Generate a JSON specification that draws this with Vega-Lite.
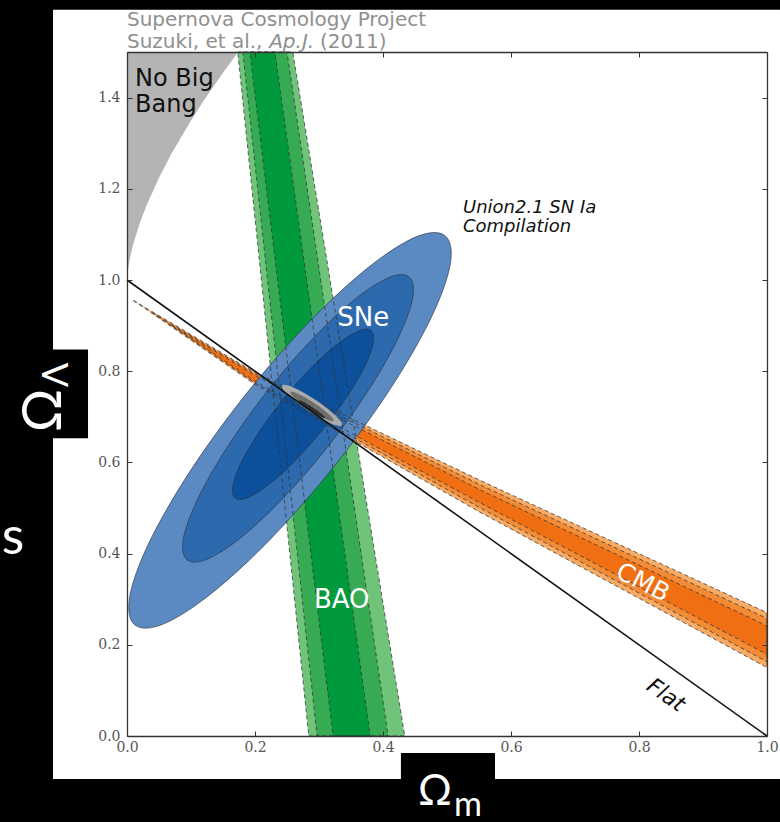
{
"$schema":"https://vega.github.io/schema/vega-lite/v6.json",
"width":640,"height":684,
"autosize":{"type":"none"},
"padding":{"left":127,"top":52,"right":13,"bottom":86},
"background":"#000000",
"config":{"view":{"stroke":null},"axis":{"grid":false}},
"resolve":{"axis":{"x":"independent","y":"independent"}},
"datasets":{
"poly":[
{"r":"NBB","f":"NBB","i":0,"om":0,"ol":1.0},{"r":"NBB","f":"NBB","i":1,"om":0.001,"ol":1.018},{"r":"NBB","f":"NBB","i":2,"om":0.005,"ol":1.051},{"r":"NBB","f":"NBB","i":3,"om":0.01,"ol":1.08},{"r":"NBB","f":"NBB","i":4,"om":0.02,"ol":1.125},{"r":"NBB","f":"NBB","i":5,"om":0.03,"ol":1.162},{"r":"NBB","f":"NBB","i":6,"om":0.05,"ol":1.224},{"r":"NBB","f":"NBB","i":7,"om":0.07,"ol":1.2785},{"r":"NBB","f":"NBB","i":8,"om":0.1,"ol":1.35},{"r":"NBB","f":"NBB","i":9,"om":0.12,"ol":1.3937},{"r":"NBB","f":"NBB","i":10,"om":0.15,"ol":1.4547},{"r":"NBB","f":"NBB","i":11,"om":0.17,"ol":1.4926},{"r":"NBB","f":"NBB","i":12,"om":0.174,"ol":1.5},{"r":"NBB","f":"NBB","i":13,"om":0,"ol":1.5},
{"r":"BAO3","f":"BAO","i":0,"om":0.173,"ol":1.5},{"r":"BAO3","f":"BAO","i":1,"om":0.259,"ol":1.5},{"r":"BAO3","f":"BAO","i":2,"om":0.434,"ol":0},{"r":"BAO3","f":"BAO","i":3,"om":0.284,"ol":0},
{"r":"BAO2","f":"BAO","i":0,"om":0.181,"ol":1.5},{"r":"BAO2","f":"BAO","i":1,"om":0.250,"ol":1.5},{"r":"BAO2","f":"BAO","i":2,"om":0.408,"ol":0},{"r":"BAO2","f":"BAO","i":3,"om":0.297,"ol":0},
{"r":"BAO1","f":"BAO","i":0,"om":0.192,"ol":1.5},{"r":"BAO1","f":"BAO","i":1,"om":0.231,"ol":1.5},{"r":"BAO1","f":"BAO","i":2,"om":0.380,"ol":0},{"r":"BAO1","f":"BAO","i":3,"om":0.322,"ol":0},
{"r":"CMB3","f":"CMB","i":0,"om":0.01,"ol":0.955},{"r":"CMB3","f":"CMB","i":1,"om":0.2,"ol":0.7973},{"r":"CMB3","f":"CMB","i":2,"om":0.5516,"ol":0.5607},{"r":"CMB3","f":"CMB","i":3,"om":1.0,"ol":0.2705},{"r":"CMB3","f":"CMB","i":4,"om":1.0,"ol":0.1501},{"r":"CMB3","f":"CMB","i":5,"om":0.5516,"ol":0.4907},{"r":"CMB3","f":"CMB","i":6,"om":0.2,"ol":0.7711},
{"r":"CMB2","f":"CMB","i":0,"om":0.04,"ol":0.928},{"r":"CMB2","f":"CMB","i":1,"om":0.2,"ol":0.7941},{"r":"CMB2","f":"CMB","i":2,"om":0.5516,"ol":0.5509},{"r":"CMB2","f":"CMB","i":3,"om":1.0,"ol":0.2578},{"r":"CMB2","f":"CMB","i":4,"om":1.0,"ol":0.1628},{"r":"CMB2","f":"CMB","i":5,"om":0.5516,"ol":0.5005},{"r":"CMB2","f":"CMB","i":6,"om":0.2,"ol":0.7743},
{"r":"CMB1","f":"CMB","i":0,"om":0.07,"ol":0.901},{"r":"CMB1","f":"CMB","i":1,"om":0.2,"ol":0.7908},{"r":"CMB1","f":"CMB","i":2,"om":0.5516,"ol":0.5399},{"r":"CMB1","f":"CMB","i":3,"om":1.0,"ol":0.2416},{"r":"CMB1","f":"CMB","i":4,"om":1.0,"ol":0.1790},{"r":"CMB1","f":"CMB","i":5,"om":0.5516,"ol":0.5115},{"r":"CMB1","f":"CMB","i":6,"om":0.2,"ol":0.7776},
{"r":"SNe3","f":"SNe","i":0,"om":0.4969,"ol":1.0973},{"r":"SNe3","f":"SNe","i":1,"om":0.5052,"ol":1.0350},{"r":"SNe3","f":"SNe","i":2,"om":0.4752,"ol":0.9172},{"r":"SNe3","f":"SNe","i":3,"om":0.4117,"ol":0.7619},{"r":"SNe3","f":"SNe","i":4,"om":0.3244,"ol":0.5926},{"r":"SNe3","f":"SNe","i":5,"om":0.2264,"ol":0.4350},{"r":"SNe3","f":"SNe","i":6,"om":0.1327,"ol":0.3135},{"r":"SNe3","f":"SNe","i":7,"om":0.0577,"ol":0.2460},{"r":"SNe3","f":"SNe","i":8,"om":0.0125,"ol":0.2434},{"r":"SNe3","f":"SNe","i":9,"om":0.0042,"ol":0.3056},{"r":"SNe3","f":"SNe","i":10,"om":0.0342,"ol":0.4234},{"r":"SNe3","f":"SNe","i":11,"om":0.0977,"ol":0.5787},{"r":"SNe3","f":"SNe","i":12,"om":0.1850,"ol":0.7481},{"r":"SNe3","f":"SNe","i":13,"om":0.2830,"ol":0.9056},{"r":"SNe3","f":"SNe","i":14,"om":0.3767,"ol":1.0272},{"r":"SNe3","f":"SNe","i":15,"om":0.4517,"ol":1.0946},
{"r":"SNe2","f":"SNe","i":0,"om":0.4403,"ol":1.0072},{"r":"SNe2","f":"SNe","i":1,"om":0.4466,"ol":0.9625},{"r":"SNe2","f":"SNe","i":2,"om":0.4252,"ol":0.8773},{"r":"SNe2","f":"SNe","i":3,"om":0.3800,"ol":0.7645},{"r":"SNe2","f":"SNe","i":4,"om":0.3177,"ol":0.6414},{"r":"SNe2","f":"SNe","i":5,"om":0.2475,"ol":0.5266},{"r":"SNe2","f":"SNe","i":6,"om":0.1805,"ol":0.4379},{"r":"SNe2","f":"SNe","i":7,"om":0.1266,"ol":0.3886},{"r":"SNe2","f":"SNe","i":8,"om":0.0941,"ol":0.3860},{"r":"SNe2","f":"SNe","i":9,"om":0.0878,"ol":0.4307},{"r":"SNe2","f":"SNe","i":10,"om":0.1092,"ol":0.5159},{"r":"SNe2","f":"SNe","i":11,"om":0.1544,"ol":0.6287},{"r":"SNe2","f":"SNe","i":12,"om":0.2167,"ol":0.7518},{"r":"SNe2","f":"SNe","i":13,"om":0.2869,"ol":0.8666},{"r":"SNe2","f":"SNe","i":14,"om":0.3539,"ol":0.9553},{"r":"SNe2","f":"SNe","i":15,"om":0.4078,"ol":1.0046},
{"r":"SNe1","f":"SNe","i":0,"om":0.3813,"ol":0.8892},{"r":"SNe1","f":"SNe","i":1,"om":0.3847,"ol":0.8620},{"r":"SNe1","f":"SNe","i":2,"om":0.3716,"ol":0.8110},{"r":"SNe1","f":"SNe","i":3,"om":0.3436,"ol":0.7439},{"r":"SNe1","f":"SNe","i":4,"om":0.3053,"ol":0.6710},{"r":"SNe1","f":"SNe","i":5,"om":0.2623,"ol":0.6033},{"r":"SNe1","f":"SNe","i":6,"om":0.2213,"ol":0.5512},{"r":"SNe1","f":"SNe","i":7,"om":0.1884,"ol":0.5225},{"r":"SNe1","f":"SNe","i":8,"om":0.1688,"ol":0.5216},{"r":"SNe1","f":"SNe","i":9,"om":0.1653,"ol":0.5487},{"r":"SNe1","f":"SNe","i":10,"om":0.1784,"ol":0.5998},{"r":"SNe1","f":"SNe","i":11,"om":0.2064,"ol":0.6668},{"r":"SNe1","f":"SNe","i":12,"om":0.2447,"ol":0.7398},{"r":"SNe1","f":"SNe","i":13,"om":0.2877,"ol":0.8075},{"r":"SNe1","f":"SNe","i":14,"om":0.3288,"ol":0.8596},{"r":"SNe1","f":"SNe","i":15,"om":0.3616,"ol":0.8883},
{"r":"C3","f":"C","i":0,"om":0.3359,"ol":0.6813},{"r":"C3","f":"C","i":1,"om":0.3268,"ol":0.6812},{"r":"C3","f":"C","i":2,"om":0.3076,"ol":0.6929},{"r":"C3","f":"C","i":3,"om":0.2834,"ol":0.7132},{"r":"C3","f":"C","i":4,"om":0.2608,"ol":0.7367},{"r":"C3","f":"C","i":5,"om":0.2457,"ol":0.7570},{"r":"C3","f":"C","i":6,"om":0.2423,"ol":0.7688},{"r":"C3","f":"C","i":7,"om":0.2514,"ol":0.7689},{"r":"C3","f":"C","i":8,"om":0.2705,"ol":0.7572},{"r":"C3","f":"C","i":9,"om":0.2947,"ol":0.7369},{"r":"C3","f":"C","i":10,"om":0.3174,"ol":0.7134},{"r":"C3","f":"C","i":11,"om":0.3324,"ol":0.6931},
{"r":"C2","f":"C","i":0,"om":0.3229,"ol":0.6913},{"r":"C2","f":"C","i":1,"om":0.3166,"ol":0.6918},{"r":"C2","f":"C","i":2,"om":0.3030,"ol":0.7007},{"r":"C2","f":"C","i":3,"om":0.2856,"ol":0.7156},{"r":"C2","f":"C","i":4,"om":0.2692,"ol":0.7324},{"r":"C2","f":"C","i":5,"om":0.2581,"ol":0.7466},{"r":"C2","f":"C","i":6,"om":0.2553,"ol":0.7545},{"r":"C2","f":"C","i":7,"om":0.2615,"ol":0.7539},{"r":"C2","f":"C","i":8,"om":0.2752,"ol":0.7450},{"r":"C2","f":"C","i":9,"om":0.2925,"ol":0.7302},{"r":"C2","f":"C","i":10,"om":0.3089,"ol":0.7134},{"r":"C2","f":"C","i":11,"om":0.3201,"ol":0.6991},
{"r":"C1","f":"C","i":0,"om":0.3099,"ol":0.6969},{"r":"C1","f":"C","i":1,"om":0.3062,"ol":0.6977},{"r":"C1","f":"C","i":2,"om":0.2980,"ol":0.7034},{"r":"C1","f":"C","i":3,"om":0.2873,"ol":0.7127},{"r":"C1","f":"C","i":4,"om":0.2771,"ol":0.7229},{"r":"C1","f":"C","i":5,"om":0.2702,"ol":0.7313},{"r":"C1","f":"C","i":6,"om":0.2683,"ol":0.7358},{"r":"C1","f":"C","i":7,"om":0.2719,"ol":0.7350},{"r":"C1","f":"C","i":8,"om":0.2802,"ol":0.7292},{"r":"C1","f":"C","i":9,"om":0.2908,"ol":0.7200},{"r":"C1","f":"C","i":10,"om":0.3010,"ol":0.7098},{"r":"C1","f":"C","i":11,"om":0.3080,"ol":0.7013}
],
"flat":[{"om":0,"ol":1},{"om":1,"ol":0}]
},
"layer":[
{"data":{"values":[{"om1":-0.1156,"om2":1.0203,"ol1":-0.0942,"ol2":1.5925}]},
 "mark":{"type":"rect","color":"#ffffff"},
 "encoding":{"x":{"field":"om1","type":"quantitative","scale":{"domain":[0,1],"nice":false,"zero":false},"axis":null},"x2":{"field":"om2"},
  "y":{"field":"ol1","type":"quantitative","scale":{"domain":[0,1.5],"nice":false,"zero":false},"axis":null},"y2":{"field":"ol2"}}},
{"data":{"values":[{"om1":-0.1984,"om2":-0.0609,"ol1":0.6528,"ol2":0.8477},{"om1":0.428,"om2":0.575,"ol1":-0.1884,"ol2":-0.0372}]},
 "mark":{"type":"rect","color":"#000000"},
 "encoding":{"x":{"field":"om1","type":"quantitative","scale":{"domain":[0,1],"nice":false,"zero":false},"axis":null},"x2":{"field":"om2"},
  "y":{"field":"ol1","type":"quantitative","scale":{"domain":[0,1.5],"nice":false,"zero":false},"axis":null},"y2":{"field":"ol2"}}},
{"data":{"name":"poly"},"transform":[{"filter":"datum.f == 'NBB'"}],
 "mark":{"type":"line","filled":true,"interpolate":"linear-closed","strokeWidth":0},
 "encoding":{"x":{"field":"om","type":"quantitative","scale":{"domain":[0,1],"nice":false,"zero":false},
   "axis":{"orient":"top","labels":false,"title":null,"values":[0,0.2,0.4,0.6,0.8,1.0],"tickSize":-5,"tickColor":"#333","domainColor":"#333","domainWidth":1.3,"zindex":1}},
  "y":{"field":"ol","type":"quantitative","scale":{"domain":[0,1.5],"nice":false,"zero":false},
   "axis":{"orient":"right","labels":false,"title":null,"values":[0,0.2,0.4,0.6,0.8,1.0,1.2,1.4],"tickSize":-5,"tickColor":"#333","domainColor":"#333","domainWidth":1.3,"zindex":1}},
  "color":{"field":"r","type":"nominal","legend":null,"scale":{"domain":["NBB","BAO3","BAO2","BAO1","CMB3","CMB2","CMB1","SNe3","SNe2","SNe1","C3","C2","C1"],"range":["#b4b4b4","#6fc47a","#36ab53","#009a3c","#f8ab64","#f38b35","#ef6f12","#5b89c1","#2c6aad","#0c4f9a","#ababab","#6e6e6e","#2e2e2e"]}},
  "order":{"field":"i","type":"quantitative"}}},
{"data":{"name":"poly"},"transform":[{"filter":"datum.f == 'BAO'"}],
 "mark":{"type":"line","filled":true,"interpolate":"linear-closed","strokeWidth":0},
 "encoding":{"x":{"field":"om","type":"quantitative","scale":{"domain":[0,1],"nice":false,"zero":false},"axis":null},
  "y":{"field":"ol","type":"quantitative","scale":{"domain":[0,1.5],"nice":false,"zero":false},"axis":null},
  "color":{"field":"r","type":"nominal","legend":null,"scale":{"domain":["NBB","BAO3","BAO2","BAO1","CMB3","CMB2","CMB1","SNe3","SNe2","SNe1","C3","C2","C1"],"range":["#b4b4b4","#6fc47a","#36ab53","#009a3c","#f8ab64","#f38b35","#ef6f12","#5b89c1","#2c6aad","#0c4f9a","#ababab","#6e6e6e","#2e2e2e"]}},
  "order":{"field":"i","type":"quantitative"}}},
{"data":{"name":"poly"},"transform":[{"filter":"datum.f == 'CMB'"}],
 "mark":{"type":"line","filled":true,"interpolate":"linear-closed","strokeWidth":0},
 "encoding":{"x":{"field":"om","type":"quantitative","scale":{"domain":[0,1],"nice":false,"zero":false},"axis":null},
  "y":{"field":"ol","type":"quantitative","scale":{"domain":[0,1.5],"nice":false,"zero":false},"axis":null},
  "color":{"field":"r","type":"nominal","legend":null,"scale":{"domain":["NBB","BAO3","BAO2","BAO1","CMB3","CMB2","CMB1","SNe3","SNe2","SNe1","C3","C2","C1"],"range":["#b4b4b4","#6fc47a","#36ab53","#009a3c","#f8ab64","#f38b35","#ef6f12","#5b89c1","#2c6aad","#0c4f9a","#ababab","#6e6e6e","#2e2e2e"]}},
  "order":{"field":"i","type":"quantitative"}}},
{"data":{"name":"poly"},"transform":[{"filter":"datum.f == 'SNe'"}],
 "mark":{"type":"line","filled":true,"interpolate":"cardinal-closed","stroke":"#2a3340","strokeWidth":0.8,"strokeOpacity":0.8},
 "encoding":{"x":{"field":"om","type":"quantitative","scale":{"domain":[0,1],"nice":false,"zero":false},"axis":null},
  "y":{"field":"ol","type":"quantitative","scale":{"domain":[0,1.5],"nice":false,"zero":false},"axis":null},
  "color":{"field":"r","type":"nominal","legend":null,"scale":{"domain":["NBB","BAO3","BAO2","BAO1","CMB3","CMB2","CMB1","SNe3","SNe2","SNe1","C3","C2","C1"],"range":["#b4b4b4","#6fc47a","#36ab53","#009a3c","#f8ab64","#f38b35","#ef6f12","#5b89c1","#2c6aad","#0c4f9a","#ababab","#6e6e6e","#2e2e2e"]}},
  "order":{"field":"i","type":"quantitative"}}},
{"data":{"name":"poly"},"transform":[{"filter":"datum.f == 'BAO' || datum.f == 'CMB'"}],
 "mark":{"type":"line","interpolate":"linear-closed","color":"#333333","strokeWidth":1,"strokeDash":[4,3],"opacity":0.75},
 "encoding":{"x":{"field":"om","type":"quantitative","scale":{"domain":[0,1],"nice":false,"zero":false},"axis":null},
  "y":{"field":"ol","type":"quantitative","scale":{"domain":[0,1.5],"nice":false,"zero":false},"axis":null},
  "detail":{"field":"r","type":"nominal"},
  "order":{"field":"i","type":"quantitative"}}},
{"data":{"name":"poly"},"transform":[{"filter":"datum.f == 'C'"}],
 "mark":{"type":"line","filled":true,"interpolate":"cardinal-closed","strokeWidth":0},
 "encoding":{"x":{"field":"om","type":"quantitative","scale":{"domain":[0,1],"nice":false,"zero":false},"axis":null},
  "y":{"field":"ol","type":"quantitative","scale":{"domain":[0,1.5],"nice":false,"zero":false},"axis":null},
  "color":{"field":"r","type":"nominal","legend":null,"scale":{"domain":["NBB","BAO3","BAO2","BAO1","CMB3","CMB2","CMB1","SNe3","SNe2","SNe1","C3","C2","C1"],"range":["#b4b4b4","#6fc47a","#36ab53","#009a3c","#f8ab64","#f38b35","#ef6f12","#5b89c1","#2c6aad","#0c4f9a","#ababab","#6e6e6e","#2e2e2e"]}},
  "order":{"field":"i","type":"quantitative"}}},
{"data":{"name":"flat"},
 "mark":{"type":"line","color":"#111111","strokeWidth":1.6},
 "encoding":{"x":{"field":"om","type":"quantitative","scale":{"domain":[0,1],"nice":false,"zero":false},
   "axis":{"orient":"bottom","title":null,"values":[0,0.2,0.4,0.6,0.8,1.0],"format":".1f","tickSize":-5,"tickColor":"#333","domainColor":"#333","domainWidth":1.3,"labelPadding":9,"labelFlush":false,"labelOverlap":false,"labelFont":"DejaVu Serif","labelFontSize":14,"labelColor":"#555555","zindex":1}},
  "y":{"field":"ol","type":"quantitative","scale":{"domain":[0,1.5],"nice":false,"zero":false},
   "axis":{"orient":"left","title":null,"values":[0,0.2,0.4,0.6,0.8,1.0,1.2,1.4],"format":".1f","tickSize":-5,"tickColor":"#333","domainColor":"#333","domainWidth":1.3,"labelPadding":12,"labelFlush":false,"labelOverlap":false,"labelFont":"DejaVu Serif","labelFontSize":14,"labelColor":"#555555","zindex":1}}}},
{"data":{"values":[{"t":"Supernova Cosmology Project","om":0,"ol":1.5575},{"t":"Suzuki, et al.,","om":0,"ol":1.5087},{"t":"(2011)","om":0.3016,"ol":1.5087}]},
 "mark":{"type":"text","font":"DejaVu Sans","fontSize":20,"color":"#8f8f8f","align":"left","baseline":"alphabetic"},
 "encoding":{"x":{"field":"om","type":"quantitative","scale":{"domain":[0,1],"nice":false,"zero":false},"axis":null},"y":{"field":"ol","type":"quantitative","scale":{"domain":[0,1.5],"nice":false,"zero":false},"axis":null},"text":{"field":"t"}}},
{"data":{"values":[{"t":"Ap.J.","om":0.2221,"ol":1.5087}]},
 "mark":{"type":"text","font":"DejaVu Sans","fontSize":20,"fontStyle":"italic","color":"#8f8f8f","align":"left","baseline":"alphabetic"},
 "encoding":{"x":{"field":"om","type":"quantitative","scale":{"domain":[0,1],"nice":false,"zero":false},"axis":null},"y":{"field":"ol","type":"quantitative","scale":{"domain":[0,1.5],"nice":false,"zero":false},"axis":null},"text":{"field":"t"}}},
{"data":{"values":[{"t":"No Big","om":0.0125,"ol":1.426},{"t":"Bang","om":0.0125,"ol":1.3676}]},
 "mark":{"type":"text","font":"DejaVu Sans","fontSize":24,"color":"#111111","align":"left","baseline":"alphabetic"},
 "encoding":{"x":{"field":"om","type":"quantitative","scale":{"domain":[0,1],"nice":false,"zero":false},"axis":null},"y":{"field":"ol","type":"quantitative","scale":{"domain":[0,1.5],"nice":false,"zero":false},"axis":null},"text":{"field":"t"}}},
{"data":{"values":[{"t":"Union2.1 SN Ia","om":0.525,"ol":1.1479},{"t":"Compilation","om":0.525,"ol":1.1062}]},
 "mark":{"type":"text","font":"DejaVu Sans","fontSize":18,"fontStyle":"italic","color":"#111111","align":"left","baseline":"alphabetic"},
 "encoding":{"x":{"field":"om","type":"quantitative","scale":{"domain":[0,1],"nice":false,"zero":false},"axis":null},"y":{"field":"ol","type":"quantitative","scale":{"domain":[0,1.5],"nice":false,"zero":false},"axis":null},"text":{"field":"t"}}},
{"data":{"values":[{"t":"SNe","om":0.369,"ol":0.9157},{"t":"BAO","om":0.3355,"ol":0.2979}]},
 "mark":{"type":"text","font":"DejaVu Sans","fontSize":26,"color":"#ffffff","align":"center","baseline":"middle"},
 "encoding":{"x":{"field":"om","type":"quantitative","scale":{"domain":[0,1],"nice":false,"zero":false},"axis":null},"y":{"field":"ol","type":"quantitative","scale":{"domain":[0,1.5],"nice":false,"zero":false},"axis":null},"text":{"field":"t"}}},
{"data":{"values":[{"t":"CMB","om":0.806,"ol":0.337}]},
 "mark":{"type":"text","font":"DejaVu Sans","fontSize":25,"color":"#ffffff","align":"center","baseline":"middle","angle":27},
 "encoding":{"x":{"field":"om","type":"quantitative","scale":{"domain":[0,1],"nice":false,"zero":false},"axis":null},"y":{"field":"ol","type":"quantitative","scale":{"domain":[0,1.5],"nice":false,"zero":false},"axis":null},"text":{"field":"t"}}},
{"data":{"values":[{"t":"Flat","om":0.842,"ol":0.0898}]},
 "mark":{"type":"text","font":"DejaVu Sans","fontSize":22,"fontStyle":"italic","color":"#111111","align":"center","baseline":"middle","angle":35.5},
 "encoding":{"x":{"field":"om","type":"quantitative","scale":{"domain":[0,1],"nice":false,"zero":false},"axis":null},"y":{"field":"ol","type":"quantitative","scale":{"domain":[0,1.5],"nice":false,"zero":false},"axis":null},"text":{"field":"t"}}},
{"data":{"values":[{"t":"Ω","om":-0.1281,"ol":0.7141}]},
 "mark":{"type":"text","font":"Lato","fontSize":54,"color":"#ffffff","align":"center","baseline":"middle","angle":270},
 "encoding":{"x":{"field":"om","type":"quantitative","scale":{"domain":[0,1],"nice":false,"zero":false},"axis":null},"y":{"field":"ol","type":"quantitative","scale":{"domain":[0,1.5],"nice":false,"zero":false},"axis":null},"text":{"field":"t"}}},
{"data":{"values":[{"t":"Λ","om":-0.1094,"ol":0.7919}]},
 "mark":{"type":"text","font":"Lato","fontSize":36,"color":"#ffffff","align":"center","baseline":"middle","angle":270},
 "encoding":{"x":{"field":"om","type":"quantitative","scale":{"domain":[0,1],"nice":false,"zero":false},"axis":null},"y":{"field":"ol","type":"quantitative","scale":{"domain":[0,1.5],"nice":false,"zero":false},"axis":null},"text":{"field":"t"}}},
{"data":{"values":[{"t":"Ω","om":0.4813,"ol":-0.1227}]},
 "mark":{"type":"text","font":"Lato","fontSize":42,"color":"#ffffff","align":"center","baseline":"middle"},
 "encoding":{"x":{"field":"om","type":"quantitative","scale":{"domain":[0,1],"nice":false,"zero":false},"axis":null},"y":{"field":"ol","type":"quantitative","scale":{"domain":[0,1.5],"nice":false,"zero":false},"axis":null},"text":{"field":"t"}}},
{"data":{"values":[{"t":"m","om":0.5328,"ol":-0.1533}]},
 "mark":{"type":"text","font":"Lato","fontSize":34,"color":"#ffffff","align":"center","baseline":"middle"},
 "encoding":{"x":{"field":"om","type":"quantitative","scale":{"domain":[0,1],"nice":false,"zero":false},"axis":null},"y":{"field":"ol","type":"quantitative","scale":{"domain":[0,1.5],"nice":false,"zero":false},"axis":null},"text":{"field":"t"}}},
{"data":{"values":[{"t":"s","om":-0.178,"ol":0.4337}]},
 "mark":{"type":"text","font":"Lato","fontSize":52,"color":"#ffffff","align":"center","baseline":"middle"},
 "encoding":{"x":{"field":"om","type":"quantitative","scale":{"domain":[0,1],"nice":false,"zero":false},"axis":null},"y":{"field":"ol","type":"quantitative","scale":{"domain":[0,1.5],"nice":false,"zero":false},"axis":null},"text":{"field":"t"}}}
]
}
